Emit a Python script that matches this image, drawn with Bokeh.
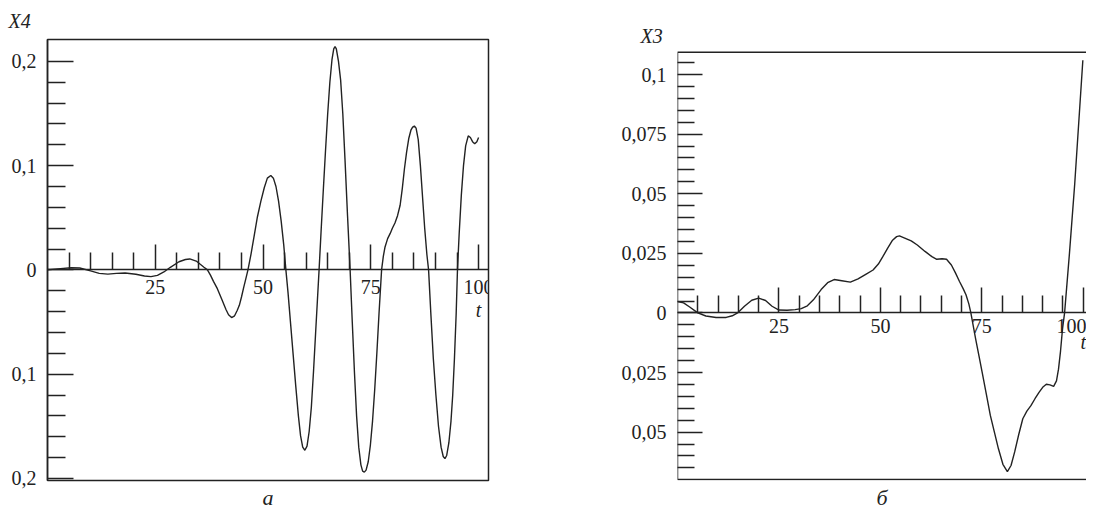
from bokeh.plotting import figure
from bokeh.layouts import row
from bokeh.models import (LinearAxis, FixedTicker, CustomJSTickFormatter, Label, Title,
                          BoxAnnotation)
from bokeh.embed import file_html
from bokeh.resources import INLINE

# ---------------- data ----------------
t_x4 = [0, 3, 5.5, 7.5, 10, 12, 14, 16, 18, 20.5, 22.5, 24, 25.5, 27, 28.5, 30.5, 32, 33,
        34.5, 36.3,
        37.1, 37.8, 38.5, 39.4, 40.4, 41.4, 42.0, 42.7, 43.4, 44.0, 44.5, 45.0, 45.5, 46.0,
        46.5, 47.2, 48.0, 48.7, 49.5, 50.3, 51.0, 51.8, 52.4, 53.0, 53.6, 54.2, 54.8,
        55.3, 55.8, 56.4, 57.0, 57.6, 58.2, 58.7, 59.2, 59.7, 60.2, 60.7, 61.2, 61.7, 62.2,
        62.6,
        63.0, 63.5, 64.0, 64.5, 65.0, 65.5, 66.0, 66.4, 66.7, 67.0, 67.5, 68.0, 68.5, 69.0,
        69.6,
        70.2, 70.7, 71.2, 71.7, 72.2, 72.7, 73.1, 73.5, 73.9, 74.4, 74.9, 75.4, 75.9, 76.4,
        76.9,
        77.5, 77.9, 78.3, 78.9, 79.5, 80.0, 80.6, 81.2, 81.8, 82.3, 82.8, 83.3, 83.8, 84.3,
        84.7, 85.1, 85.5, 86.0, 86.5, 87.0, 87.5, 88.0,
        88.4, 88.9, 89.5, 90.1, 90.7, 91.3, 91.8, 92.2, 92.6, 93.1, 93.6, 94.0, 94.4, 94.8,
        95.1, 95.5, 96.0, 96.5, 97.0, 97.6, 98.1, 98.6, 99.1, 99.6, 100.0]
x4 = [0, 0.0012, 0.002, 0.0018, -0.001, -0.0033, -0.004, -0.0033, -0.003, -0.0042, -0.0058,
      -0.0064, -0.0052, -0.002, 0.0025, 0.0078, 0.0100, 0.0105, 0.0085, 0.0026,
      0.0, -0.005, -0.011, -0.018, -0.028, -0.038, -0.043, -0.0457, -0.044, -0.039, -0.034,
      -0.026, -0.017, -0.0086,
      0.0, 0.015, 0.034, 0.051, 0.066, 0.079, 0.088, 0.0905, 0.088, 0.080, 0.066, 0.047,
      0.024,
      0.0, -0.022, -0.052, -0.082, -0.112, -0.140, -0.159, -0.170, -0.173, -0.169, -0.155,
      -0.132, -0.098, -0.060, -0.030,
      0.0, 0.040, 0.078, 0.115, 0.150, 0.180, 0.202, 0.212, 0.2143, 0.212, 0.200, 0.182,
      0.150, 0.107, 0.052,
      0.0, -0.050, -0.098, -0.140, -0.170, -0.187, -0.193, -0.194, -0.192, -0.184, -0.168,
      -0.145, -0.115, -0.080, -0.042,
      0.0, 0.013, 0.022, 0.030, 0.035, 0.040, 0.045, 0.052, 0.062, 0.078, 0.097, 0.113,
      0.126, 0.134, 0.137, 0.138, 0.136, 0.125, 0.100, 0.070, 0.040, 0.015,
      0.0, -0.040, -0.085, -0.120, -0.150, -0.170, -0.179, -0.181, -0.178, -0.166, -0.145,
      -0.120, -0.085, -0.042,
      0.0, 0.035, 0.072, 0.100, 0.119, 0.1286, 0.127, 0.123, 0.121, 0.123, 0.127]

t_x3 = [0, 1.5, 3, 5, 7, 9.5, 12, 13.5, 14.8, 16.5, 18.3, 20, 21.7, 23.3, 25, 27, 29, 30.5,
        32, 33.5, 35.4, 37, 38.6, 40.5, 42.6, 44.5, 46.5, 48.2, 49.5, 50.6, 51.8, 53.0, 54.0,
        54.7, 56, 57.6, 59.1, 61, 62.7, 63.9, 65.2, 66.3, 67.5, 68.5, 69.5, 70.4, 71.1, 71.8,
        72.3, 73.5, 74.3, 75.1, 76.1, 77.1, 78.1, 79.1, 80.2, 81.3, 82.2, 83.1, 84.1, 85.1,
        86.1, 87.1, 88.1, 89.1, 90.0, 90.9, 91.8, 92.7, 93.4, 93.9, 94.4, 94.9, 95.4, 96.6,
        97.9, 99.9]
x3 = [0.0048, 0.0042, 0.0025, 0.0, -0.0013, -0.0019, -0.0019, -0.0012, 0.0, 0.0028, 0.0053,
      0.0062, 0.0052, 0.0028, 0.0012, 0.0011, 0.0014, 0.0018,
      0.0030, 0.0055, 0.0098, 0.0127, 0.0140, 0.0135, 0.0129, 0.0143, 0.0163, 0.0180, 0.0205,
      0.0236, 0.0272, 0.0305, 0.0320,
      0.0323, 0.0314, 0.0302, 0.0285, 0.0258, 0.0236, 0.0225, 0.0227, 0.0225, 0.0201, 0.0168,
      0.0132, 0.0102, 0.0076, 0.0038,
      0.0, -0.0111, -0.018, -0.025, -0.034, -0.043, -0.050, -0.057, -0.0635, -0.0666, -0.0640,
      -0.0583, -0.051, -0.0444,
      -0.0412, -0.0389, -0.036, -0.0333, -0.0312, -0.0299, -0.0302, -0.0308, -0.0285, -0.0236,
      -0.016, -0.0065, 0.0, 0.025,
      0.0542, 0.106]

x_major = [25, 50, 75, 100]
x_minor = [5, 10, 15, 20, 30, 35, 40, 45, 55, 60, 65, 70, 80, 85, 90, 95]
y4_major = [-0.2, -0.1, 0.0, 0.1, 0.2]
y4_minor = [-0.18, -0.16, -0.14, -0.12, -0.08, -0.06, -0.04, -0.02,
            0.02, 0.04, 0.06, 0.08, 0.12, 0.14, 0.16, 0.18]
y3_major = [-0.05, -0.025, 0.0, 0.025, 0.05, 0.075, 0.1]
y3_minor = [-0.065, -0.06, -0.055, -0.045, -0.04, -0.035, -0.03, -0.02, -0.015, -0.01, -0.005,
            0.005, 0.01, 0.015, 0.02, 0.03, 0.035, 0.04, 0.045, 0.055, 0.06, 0.065, 0.07,
            0.08, 0.085, 0.09, 0.095, 0.105]
x3_box = (0, 102.0, -0.0699, 0.1094)   # left, right, bottom, top of the б-panel box

INK = "#222222"
FONT = "Liberation Serif"

fmt_code = """
const a = Math.abs(tick);
if (a < 1e-9) return "0";
return String(parseFloat(a.toFixed(4))).replace(".", ",");
"""


def make_panel(width, height, xr, yr, borders, tdata, vdata, ymaj, ymin, xstand, tick_len,
               outline=True):
    bl, br, bt, bb = borders
    p = figure(width=width, height=height, x_range=xr, y_range=yr, title=None,
               x_axis_location=None, y_axis_location=None,
               toolbar_location=None, output_backend="svg",
               min_border_left=bl, min_border_right=br,
               min_border_top=bt, min_border_bottom=bb)
    p.grid.visible = False
    p.outline_line_color = INK if outline else None
    p.outline_line_width = 1.5
    p.background_fill_color = "white"
    p.border_fill_color = "white"

    yax = LinearAxis(ticker=FixedTicker(ticks=ymaj, minor_ticks=ymin),
                     formatter=CustomJSTickFormatter(code=fmt_code),
                     major_tick_in=tick_len[0], major_tick_out=0,
                     minor_tick_in=tick_len[1], minor_tick_out=0,
                     major_tick_line_color=INK, minor_tick_line_color=INK,
                     major_tick_line_width=1.5, minor_tick_line_width=1.5,
                     axis_line_color=INK if outline else None, axis_line_width=1.5,
                     major_label_standoff=11,
                     major_label_text_font=FONT,
                     major_label_text_font_size="20px",
                     major_label_text_color=INK)
    p.add_layout(yax, "left")

    xax = LinearAxis(fixed_location=0,
                     ticker=FixedTicker(ticks=x_major, minor_ticks=x_minor),
                     major_tick_in=25, major_tick_out=0,
                     minor_tick_in=17, minor_tick_out=0,
                     major_tick_line_color=INK, minor_tick_line_color=INK,
                     major_tick_line_width=1.5, minor_tick_line_width=1.5,
                     axis_line_color=INK, axis_line_width=1.5,
                     major_label_standoff=xstand,
                     major_label_text_font=FONT,
                     major_label_text_font_size="20px",
                     major_label_text_color=INK)
    p.add_layout(xax, "below")

    p.line(tdata, vdata, line_color=INK, line_width=1.4)
    return p


def ital_title(text, align, offset, standoff, size):
    return Title(text=text, align=align, offset=offset, standoff=standoff,
                 text_font=FONT, text_font_style="italic", text_font_size=size,
                 text_color=INK)


def lab(p, x, y, text, size):
    p.add_layout(Label(x=x, y=y, text=text, text_font=FONT, text_font_style="italic",
                       text_font_size=size, text_color=INK, text_align="center",
                       text_baseline="middle"))


# left panel (a)
p1 = make_panel(608, 511, (0, 102.3), (-0.202, 0.221), (47, 120, 38, 29),
                t_x4, x4, y4_major, y4_minor, 10, (26, 18))
p1.add_layout(ital_title("X4", "left", -39, 15, "20px"), "above")
p1.add_layout(ital_title("a", "center", -9, 4, "22px"), "below")
lab(p1, 100.0, -0.0381, "t", "20px")

# right panel (б)
p2 = make_panel(478, 511, (0, 100.8), (-0.0703, 0.1147), (69, 0, 38, 29),
                t_x3, x3, y3_major, y3_minor, 6, (25, 17), outline=False)
bl_, br_, bb_, bt_ = x3_box
p2.add_layout(BoxAnnotation(left=bl_, right=br_, bottom=bb_, top=bt_,
                            fill_alpha=0, line_color=INK, line_alpha=1.0,
                            line_width=1.5))
p2.add_layout(ital_title("X3", "left", -37, -15, "20px"), "above")
p2.add_layout(ital_title("б", "center", 26, 4, "22px"), "below")
lab(p2, 100.0, -0.0124, "t", "20px")

layout = row(p1, p2)
open("out.html", "w").write(file_html(layout, INLINE))
